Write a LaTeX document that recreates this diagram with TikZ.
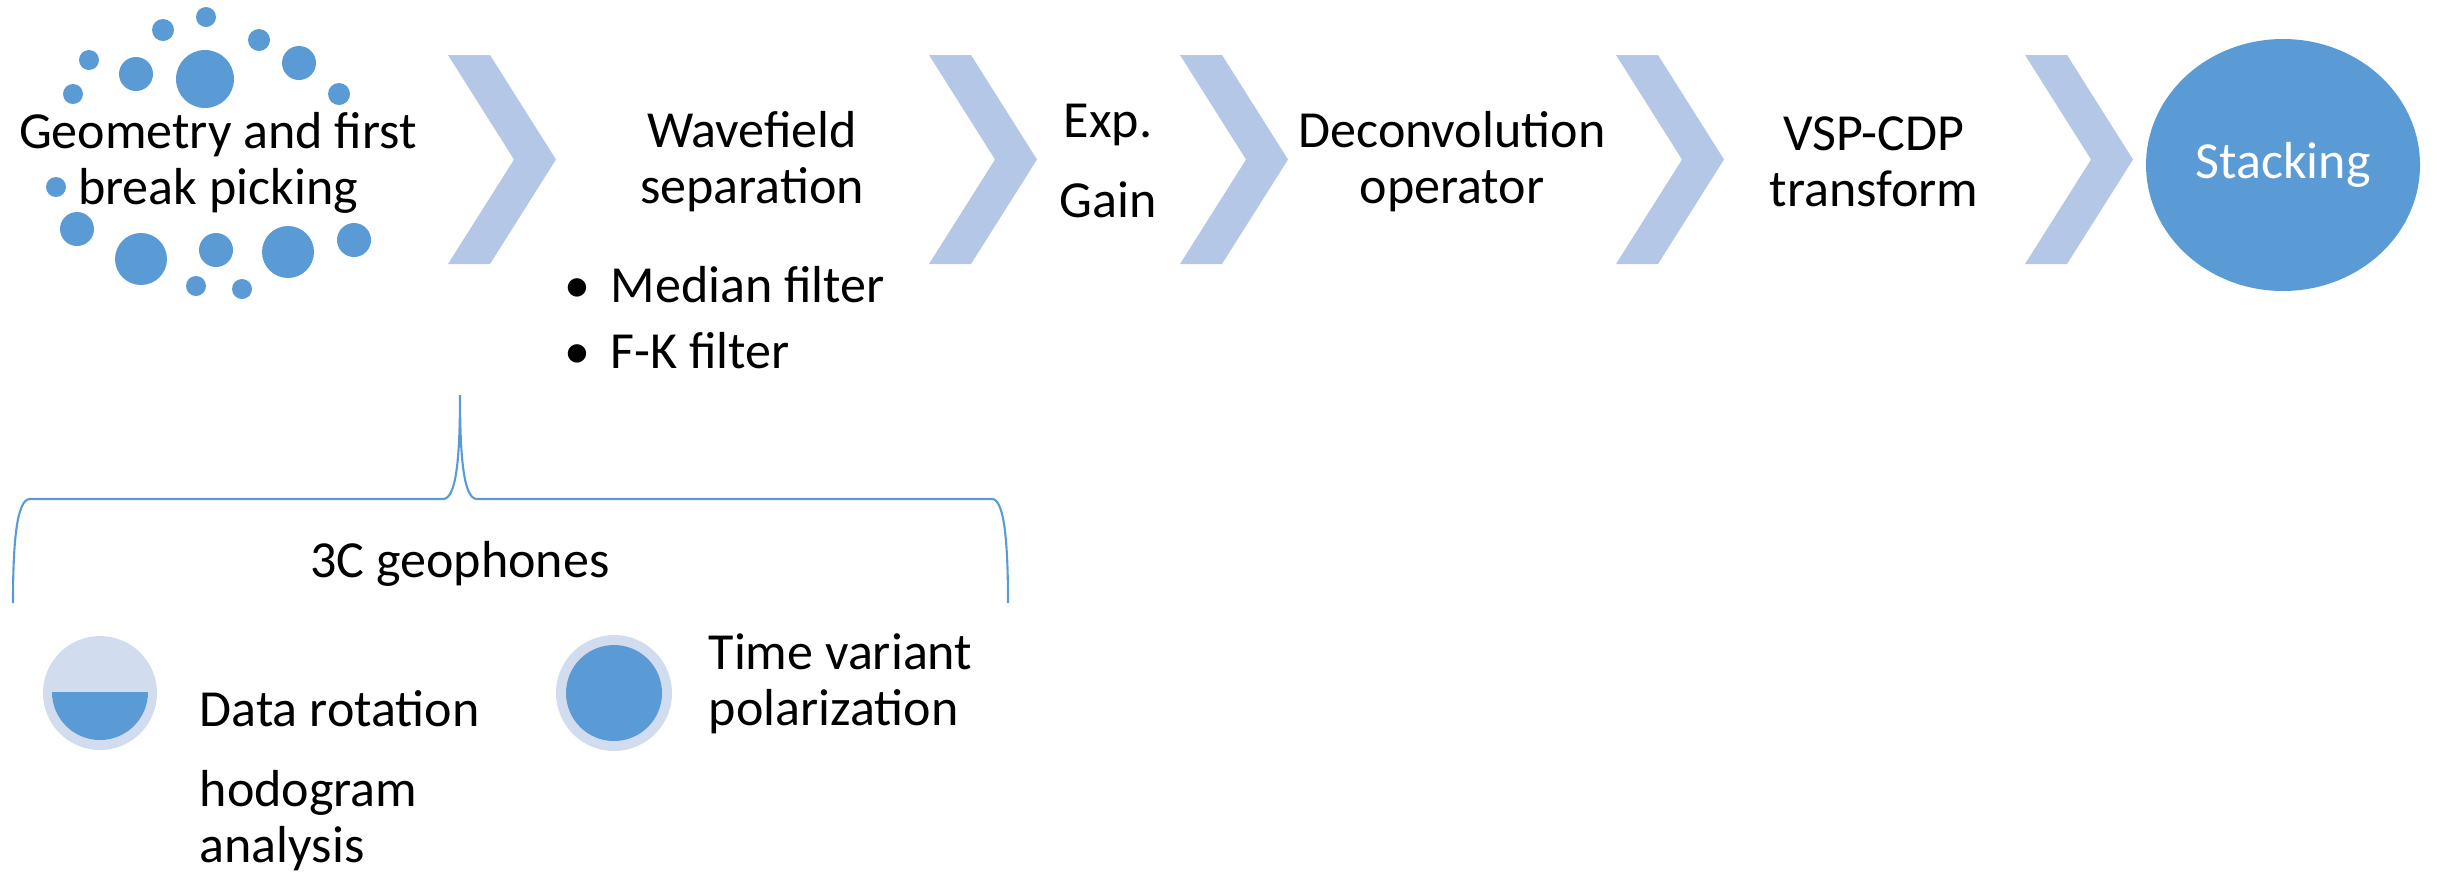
\documentclass[tikz,border=0pt]{standalone}
\usepackage{fontspec}
\setmainfont{Carlito}
\usepackage{tikz}
\usetikzlibrary{shapes}

\definecolor{dotblue}{HTML}{5B9BD5}
\definecolor{chevblue}{HTML}{B4C7E7}
\definecolor{paleblue}{HTML}{D1DDEF}

\begin{document}
\begin{tikzpicture}[x=0.01cm, y=-0.01cm,
  txt/.style = {inner sep=0pt, align=center, font=\fontsize{14.8}{15.9}\selectfont},
  chev/.style = {fill=chevblue},
  dot/.style = {fill=dotblue},
  brace/.style = {draw=dotblue, line width=0.6pt}]
\useasboundingbox (0,0) rectangle (2437,875);
\pgfmathsetmacro{\armw}{42}
\pgfmathsetmacro{\tipx}{66}
\pgfmathsetmacro{\tipy}{104.5}
\foreach \cx/\cy/\r in {206/17/10, 163/30/11, 259/40/11, 89/60/10, 136/74/17, 205/79/29,
  299/63/17, 73/94/10, 339/94/11, 56/187/10, 77/229/17, 141/259/26, 216/250/17,
  288/252/26, 354/240/17, 196/286/10, 242/289/10}
  \fill[dot] (\cx,\cy) circle (\r);
\foreach \cx in {448,929,1180,1616,2025}
  \fill[chev] (\cx,55) -- ++(\armw,0) -- ++(\tipx,\tipy) -- ++(-\tipx,\tipy) -- ++(-\armw,0) -- ++(\tipx,-\tipy) -- cycle;
\fill[dot] (2283,165) ellipse (137 and 126);
\node[txt] (geometry) at (218,163) {Geometry and first\\break picking};
\node[txt] (wavefield) at (752,162) {Wavefield\\separation};
\node[txt, align=left, anchor=west] (filters) at (564,318) {\makebox[0.46cm][l]{\textbullet}Median filter\\[0.1cm]\makebox[0.46cm][l]{\textbullet}F-K filter};
\node[txt] (gain) at (1108,161) {Exp.\\[0.24cm]Gain};
\node[txt] (deconv) at (1452,162) {Deconvolution\\operator};
\node[txt] (vspcdp) at (1874,162) {VSP-CDP\\transform};
\node[txt, text=white] (stacking) at (2283,165) {Stacking};
\draw[brace] (13,603) .. controls (13,540) and (17,499) .. (30,499) -- (443,499)
  .. controls (456,499) and (460,460) .. (460,395) .. controls (460,460) and (464,499) .. (477,499)
  -- (992,499) .. controls (1004,499) and (1008,540) .. (1008,603);
\node[txt, anchor=base] (geophones) at (460,577) {3C geophones};
\fill[paleblue] (100,693) circle (57);
\fill[dot] (52,692) arc (180:0:48) -- cycle;
\fill[paleblue] (614,693) circle (58);
\fill[dot] (614,693) circle (48);
\node[txt, align=left, anchor=west] (rotation) at (199,781) {Data rotation\\[0.24cm]hodogram\\analysis};
\node[txt, align=left, anchor=west] (polarization) at (708,684) {Time variant\\polarization};
\end{tikzpicture}
\end{document}
